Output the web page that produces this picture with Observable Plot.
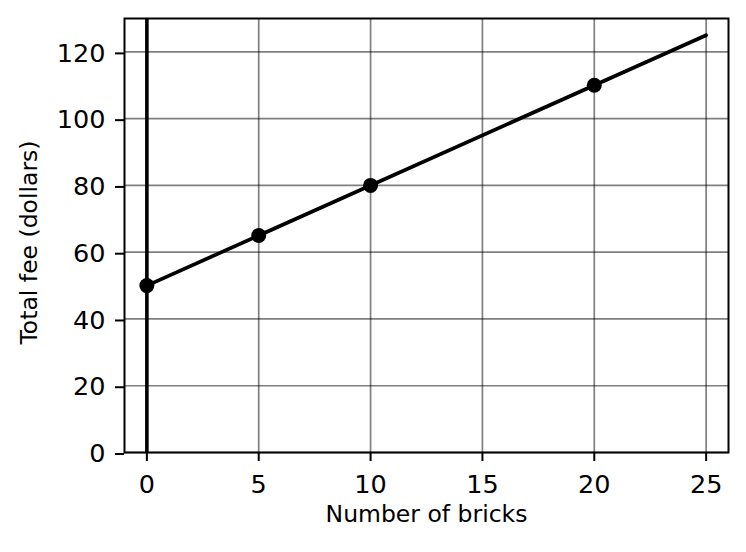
<!DOCTYPE html>
<html>
<head>
<meta charset="utf-8">
<script src="https://cdn.jsdelivr.net/npm/d3@7"></script>
<script src="https://cdn.jsdelivr.net/npm/@observablehq/plot@0.6"></script>
<style>
  html, body { margin: 0; padding: 0; background: #fff; }
  svg { display: block; }
</style>
</head>
<body>
<div id="chart"></div>
<script>
// Data
const bricks = [0, 5, 10, 20];
const fees = [50, 65, 80, 110];
const lineBricks = [0, 25];
const lineFees = [50, 125];
const xTicks = [0, 5, 10, 15, 20, 25];
const yTicks = [0, 20, 40, 60, 80, 100, 120];
const xLabel = "Number of bricks";
const yLabel = "Total fee (dollars)";

const points = bricks.map((b, i) => ({x: b, y: fees[i]}));
const linePts = lineBricks.map((b, i) => ({x: b, y: lineFees[i]}));

const font = "DejaVu Sans, sans-serif";

const chart = Plot.plot({
  width: 746,
  height: 552,
  marginLeft: 124,
  marginRight: 18,
  marginTop: 18,
  marginBottom: 100,
  style: {fontFamily: font, background: "#fff", overflow: "visible"},
  x: {domain: [-1, 26]},
  y: {domain: [0, 130]},
  marks: [
    Plot.gridX(xTicks, {stroke: "#000", strokeOpacity: 0.5, strokeWidth: 1.7}),
    Plot.gridY(yTicks, {stroke: "#000", strokeOpacity: 0.5, strokeWidth: 1.7}),
    Plot.axisX(xTicks, {tickSize: 9, tickPadding: 13, fontSize: 25.5, strokeWidth: 2, stroke: "#000", fill: "#000", label: null, tickFormat: d => String(d)}),
    Plot.axisY(yTicks, {tickSize: 9, tickPadding: 10, fontSize: 25.5, strokeWidth: 2, stroke: "#000", fill: "#000", label: null, dy: 1.5, tickFormat: d => String(d)}),
    Plot.ruleX([0], {stroke: "#000", strokeWidth: 3.6}),
    Plot.line(linePts, {x: "x", y: "y", stroke: "#000", strokeWidth: 3.7}),
    Plot.dot(points, {x: "x", y: "y", r: 7.5, fill: "#000", stroke: "none"}),
    Plot.frame({stroke: "#000", strokeWidth: 2}),
    Plot.text([xLabel], {frameAnchor: "bottom", dy: 69.5, fontSize: 23.5, fill: "#000", fontFamily: font, textAnchor: "middle"}),
    Plot.text([yLabel], {frameAnchor: "left", dx: -95.5, dy: 7, rotate: -90, fontSize: 23.5, fill: "#000", fontFamily: font, textAnchor: "middle"})
  ]
});
document.getElementById("chart").appendChild(chart);
</script>
</body>
</html>
